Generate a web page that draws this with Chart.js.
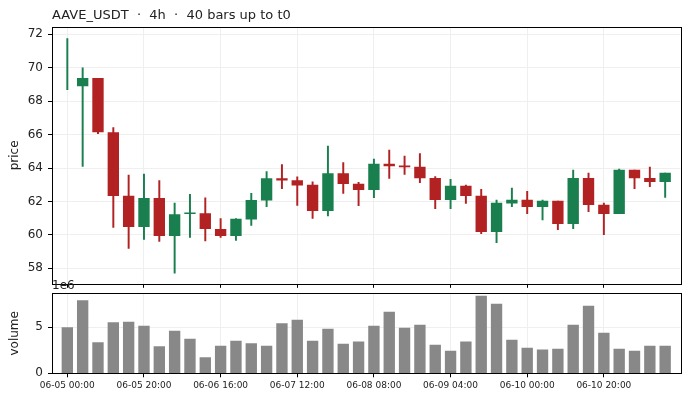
<!DOCTYPE html>
<html>
<head>
<meta charset="utf-8">
<script src="https://cdn.jsdelivr.net/npm/chart.js@4.4.1/dist/chart.umd.min.js"></script>
<style>
    body { margin: 0; background: #fff; width: 688px; height: 400px; overflow: hidden; position: relative; }
    .panel { position: absolute; left: 0; width: 688px; }
    #p1 { top: 0; height: 296px; }
    #p2 { top: 276px; height: 124px; }
</style>
</head>
<body>
<div class="panel" id="p1"><canvas id="priceChart" width="688" height="296"></canvas></div>
<div class="panel" id="p2"><canvas id="volumeChart" width="688" height="124"></canvas></div>
<script>
// OHLCV per 4h bar
const opens  = [68.72, 68.91, 69.37, 66.12, 62.32, 60.49, 62.18, 59.95, 61.26, 61.28,
                60.33, 59.95, 60.94, 62.08, 63.37, 63.25, 62.98, 61.44, 63.67, 63.04,
                62.70, 64.23, 64.13, 64.05, 63.39, 62.10, 62.92, 62.32, 60.19, 61.90,
                62.08, 61.68, 62.02, 60.67, 63.39, 61.78, 61.26, 63.87, 63.39, 63.18];
const highs  = [71.74, 70.00, 69.37, 66.42, 63.57, 63.63, 63.25, 61.90, 62.42, 62.22,
                60.98, 60.98, 62.48, 63.79, 64.21, 63.47, 63.18, 65.31, 64.33, 63.14,
                64.53, 65.07, 64.71, 64.87, 63.49, 63.33, 62.98, 62.72, 62.08, 62.80,
                62.60, 62.08, 62.02, 63.87, 63.69, 61.90, 63.93, 63.87, 64.05, 63.69];
const lows   = [68.69, 64.10, 66.06, 60.45, 59.19, 59.73, 59.61, 57.70, 59.85, 59.63,
                59.85, 59.67, 60.57, 61.68, 62.76, 61.76, 60.98, 61.14, 62.48, 61.74,
                62.22, 63.37, 63.61, 63.12, 61.56, 61.56, 61.88, 60.07, 59.53, 61.68,
                61.26, 60.90, 60.31, 60.37, 61.38, 60.01, 61.26, 62.76, 62.88, 62.24];
const closes = [68.72, 69.37, 66.16, 62.34, 60.49, 62.18, 59.95, 61.22, 61.32, 60.37,
                59.95, 60.94, 62.06, 63.37, 63.27, 62.98, 61.44, 63.67, 63.06, 62.70,
                64.23, 64.13, 64.07, 63.41, 62.10, 62.92, 62.34, 60.19, 61.90, 62.08,
                61.68, 62.02, 60.67, 63.39, 61.80, 61.26, 63.87, 63.41, 63.18, 63.69];
const volumes = [4.96, 7.90, 3.33, 5.51, 5.58, 5.14, 2.90, 4.60, 3.73, 1.70,
                 2.97, 3.51, 3.22, 2.97, 5.40, 5.80, 3.51, 4.82, 3.19, 3.41,
                 5.14, 6.67, 4.93, 5.25, 3.08, 2.43, 3.41, 8.41, 7.54, 3.62,
                 2.75, 2.54, 2.64, 5.25, 7.32, 4.38, 2.64, 2.43, 2.97, 2.97].map(v => v * 1e6);

const tickPos = [0, 5, 10, 15, 20, 25, 30, 35];
const tickLabels = ['06-05 00:00', '06-05 20:00', '06-06 16:00', '06-07 12:00',
                    '06-08 08:00', '06-09 04:00', '06-10 00:00', '06-10 20:00'];
const priceTicks = [58, 60, 62, 64, 66, 68, 70, 72];
const volumeTicks = [0, 5e6];

const UP = '#1a7f4e';
const DOWN = '#b22222';
const FONT = 'DejaVu Sans';

const idx = opens.map((_, i) => i);
const candleColors = idx.map(i => closes[i] >= opens[i] ? UP : DOWN);

// full black frame like matplotlib spines + free text
const frame = {
    id: 'frame',
    afterDraw(chart, args, opts) {
        const { ctx, chartArea: a } = chart;
        ctx.save();
        ctx.strokeStyle = '#000';
        ctx.lineWidth = 1;
        ctx.strokeRect(Math.round(a.left) + 0.5, Math.round(a.top) + 0.5,
                       Math.round(a.right - a.left), Math.round(a.bottom - a.top));
        if (opts.text) {
            ctx.fillStyle = '#222';
            ctx.font = opts.font;
            ctx.textBaseline = 'alphabetic';
            ctx.fillText(opts.text, opts.x, opts.y);
        }
        ctx.restore();
    }
};

function xScale(showLabels, height) {
    return {
        type: 'linear',
        min: -1,
        max: 40,
        offset: false,
        afterBuildTicks: s => { s.ticks = tickPos.map(v => ({ value: v })); },
        afterFit: s => { s.height = height; },
        grid: { color: '#efefef', tickColor: '#000', tickLength: 4, offset: false },
        border: { display: false },
        ticks: {
            display: showLabels,
            maxRotation: 0,
            autoSkip: false,
            padding: 3,
            color: '#222',
            font: { family: FONT, size: 9 },
            callback: v => tickLabels[tickPos.indexOf(v)]
        }
    };
}

function yScale(title, min, max, ticks, fmt) {
    return {
        min: min,
        max: max,
        afterBuildTicks: s => { s.ticks = ticks.map(v => ({ value: v })); },
        afterFit: s => { s.width = 44; },
        grid: { color: '#efefef', tickColor: '#000', tickLength: 4 },
        border: { display: false },
        ticks: { padding: 5, color: '#222', font: { family: FONT, size: 12 }, callback: fmt },
        title: { display: true, text: title, color: '#222', font: { family: FONT, size: 12 }, padding: 0 }
    };
}

new Chart(document.getElementById('priceChart'), {
    type: 'bar',
    data: {
        datasets: [{
            label: 'body',
            // a flat candle (open == close) leaves no body, as in the reference
            data: idx.filter(i => opens[i] !== closes[i]).map(i => ({ x: i, y: [opens[i], closes[i]] })),
            backgroundColor: idx.filter(i => opens[i] !== closes[i]).map(i => candleColors[i]),
            barThickness: 10.7,
            grouped: false,
            order: 1
        }, {
            label: 'wick',
            data: idx.map(i => ({ x: i, y: [lows[i], highs[i]] })),
            backgroundColor: candleColors,
            barThickness: 1.3,
            grouped: false,
            order: 2
        }]
    },
    options: {
        responsive: false,
        animation: false,
        layout: { padding: { top: 27, left: 8, right: 7.5, bottom: 0 } },
        plugins: {
            legend: { display: false },
            tooltip: { enabled: false },
            frame: { text: 'AAVE_USDT  \u00b7  4h  \u00b7  40 bars up to t0', x: 52, y: 19, font: '13px "DejaVu Sans"' }
        },
        scales: {
            x: xScale(false, 12),
            y: yScale('price', 57.07, 72.44, priceTicks, v => v)
        }
    },
    plugins: [frame]
});

new Chart(document.getElementById('volumeChart'), {
    type: 'bar',
    data: {
        datasets: [{
            label: 'volume',
            data: idx.map(i => ({ x: i, y: volumes[i] })),
            backgroundColor: '#888888',
            barThickness: 10.7
        }]
    },
    options: {
        responsive: false,
        animation: false,
        layout: { padding: { top: 17.3, left: 8, right: 7.5, bottom: 0 } },
        plugins: {
            legend: { display: false },
            tooltip: { enabled: false },
            frame: { text: '1e6', x: 52, y: 13, font: '12px "DejaVu Sans"' }
        },
        scales: {
            x: xScale(true, 26.7),
            y: yScale('volume', 0, 8.7e6, volumeTicks, v => v / 1e6)
        }
    },
    plugins: [frame]
});
</script>
</body>
</html>
